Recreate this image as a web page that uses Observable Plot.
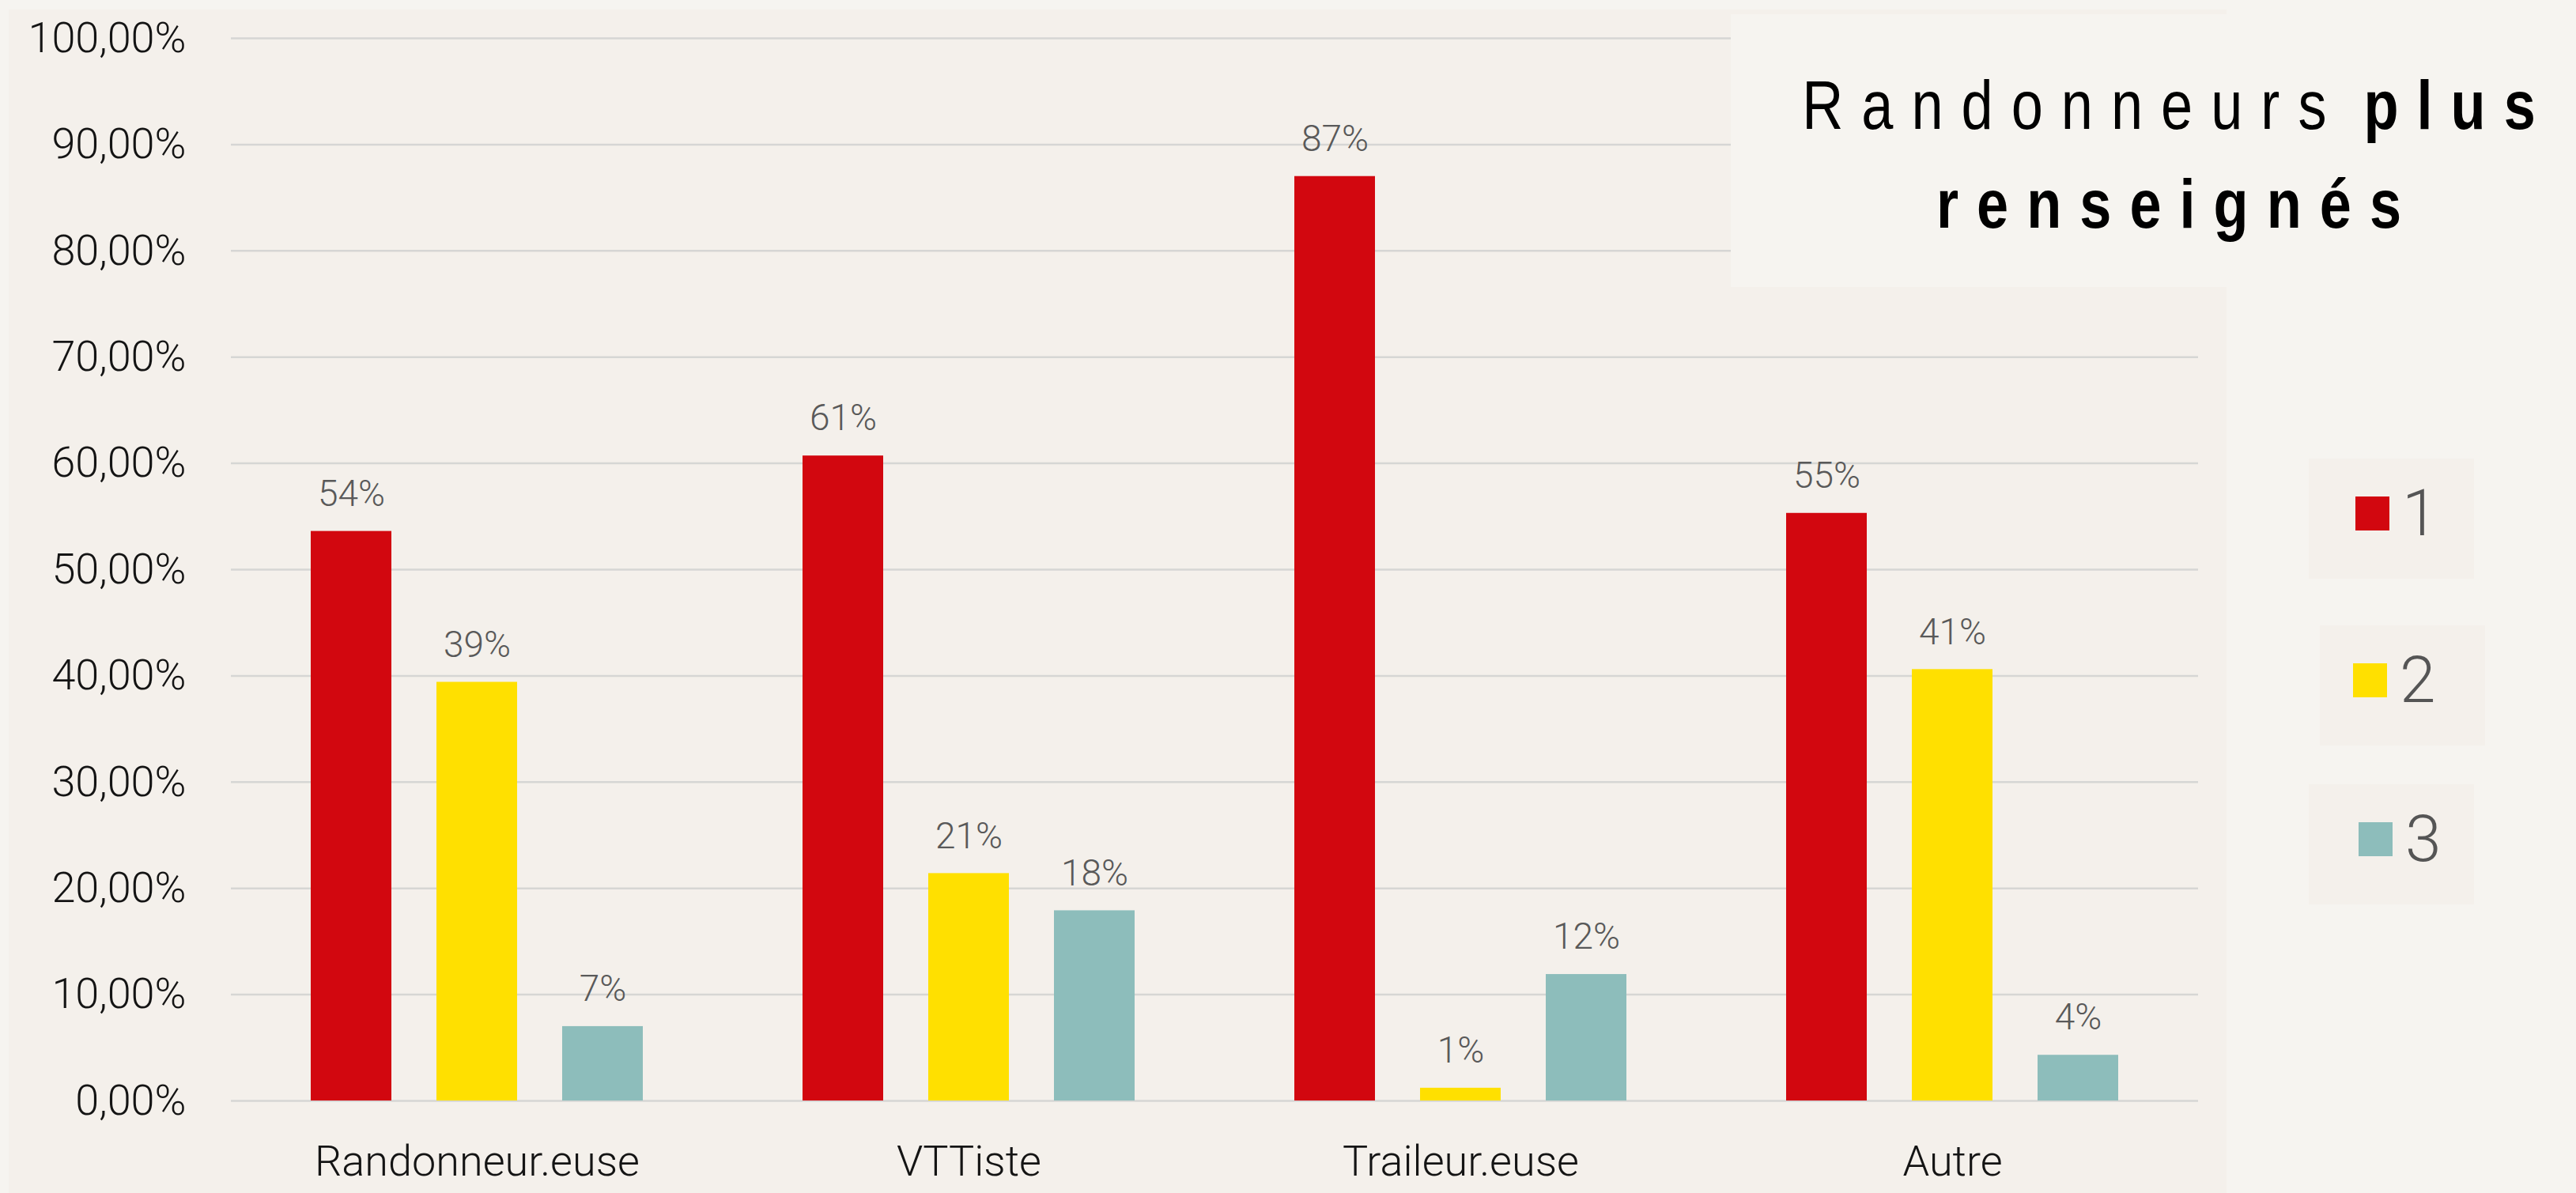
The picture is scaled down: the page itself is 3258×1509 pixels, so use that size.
<!DOCTYPE html>
<html>
<head>
<meta charset="utf-8">
<script src="https://cdn.jsdelivr.net/npm/d3@7"></script>
<script src="https://cdn.jsdelivr.net/npm/@observablehq/plot@0.6"></script>
<style>
  html, body { margin: 0; padding: 0; background: #f6f4f0; }
  #root { position: relative; width: 3258px; height: 1509px; background: #f6f4f0; overflow: hidden; }
  #panel { position: absolute; left: 11px; top: 12px; width: 2805px; height: 1497px; background: #f4f0eb; }
  #chart { position: absolute; left: 0; top: 0; }
  #overlay { position: absolute; left: 0; top: 0; }
</style>
</head>
<body>
<div id="root">
  <div id="panel"></div>
  <div id="chart"></div>
  <div id="overlay"></div>
</div>
<script>
// ---- data ----
const categories = ["Randonneur.euse", "VTTiste", "Traileur.euse", "Autre"];
const seriesNames = ["1", "2", "3"];
const series1 = [53.6, 60.7, 87.0, 55.3];
const series2 = [39.4, 21.4, 1.2, 40.6];
const series3 = [7.0, 17.9, 11.9, 4.3];
const yTicks = [0, 10, 20, 30, 40, 50, 60, 70, 80, 90, 100];
const colors = ["#d2070f", "#ffe000", "#8dbdbb"];
const titleRegular = "Randonneurs";
const titleBold1 = "plus";
const titleBold2 = "renseignés";

// ---- layout (not data) ----
const legendBoxX = [2920, 2934, 2920];
const legendBoxY = [580, 791, 992];
const legendSwatchDX = [59, 42, 63];

const allSeries = [series1, series2, series3];
const data = categories.flatMap((c, i) =>
  allSeries.map((s, j) => ({ category: c, series: seriesNames[j], value: s[i] }))
);

const chart = Plot.plot({
  width: 2816,
  height: 1509,
  marginLeft: 291,
  marginRight: 36,
  marginTop: 48,
  marginBottom: 117,
  style: { background: "transparent", fontFamily: "Roboto, 'Liberation Sans', sans-serif", fontSize: "54px", fontWeight: 300, color: "#141414", overflow: "visible" },
  facet: { data, x: "category" },
  fx: { domain: categories, padding: 0, label: null, axis: "bottom", tickSize: 0, tickPadding: 56 },
  x: { domain: seriesNames, paddingInner: 0.36, paddingOuter: 0.625, axis: null },
  y: {
    domain: [0, 100], ticks: yTicks, label: null, tickSize: 0, tickPadding: 57,
    tickFormat: d => d.toFixed(2).replace(".", ",") + "%"
  },
  color: { domain: seriesNames, range: colors },
  marks: [
    Plot.ruleY(yTicks, { stroke: "#d6d6d4", strokeWidth: 2.5 }),
    Plot.barY(data, { x: "series", y: "value", fill: "series" }),
    Plot.text(data, {
      x: "series", y: "value", text: d => Math.round(d.value) + "%",
      dy: -47, fill: "#595959", fontSize: 46, fontWeight: 300
    })
  ]
});
document.getElementById("chart").appendChild(chart);

// ---- overlay: title box + legend ----
const svg = d3.create("svg").attr("width", 3258).attr("height", 1509);

svg.append("rect").attr("x", 2189).attr("y", 18).attr("width", 1069).attr("height", 345).attr("fill", "#f6f4f0");

const sx = 0.82;            // horizontal condensing of the title font
const ls = 23 / sx;
const tf = "'Liberation Sans', Arial, sans-serif";
const tg = svg.append("g").attr("transform", `translate(${2743 + 11.5},0) scale(${sx},1)`);
const t1 = tg.append("text")
  .attr("x", 0).attr("y", 163)
  .attr("text-anchor", "middle")
  .attr("font-family", tf).attr("font-size", 88)
  .attr("letter-spacing", ls).attr("fill", "#000");
t1.append("tspan").text(titleRegular);
t1.append("tspan").attr("dx", 24 / sx).attr("font-weight", "bold").text(titleBold1);
tg.append("text")
  .attr("x", 0).attr("y", 288)
  .attr("text-anchor", "middle")
  .attr("font-family", tf).attr("font-size", 88).attr("font-weight", "bold")
  .attr("letter-spacing", ls).attr("fill", "#000")
  .text(titleBold2);

seriesNames.forEach((name, i) => {
  const g = svg.append("g").attr("transform", `translate(${legendBoxX[i]},${legendBoxY[i]})`);
  g.append("rect").attr("width", 209).attr("height", 152).attr("fill", "#f4f0eb");
  g.append("rect").attr("x", legendSwatchDX[i]).attr("y", 48).attr("width", 43).attr("height", 43).attr("fill", colors[i]);
  g.append("text").attr("x", legendSwatchDX[i] + 43 + 16).attr("y", 97)
    .attr("font-family", "Roboto, sans-serif").attr("font-size", 82).attr("font-weight", 300).attr("fill", "#555")
    .text(name);
});

document.getElementById("overlay").appendChild(svg.node());
</script>
</body>
</html>
